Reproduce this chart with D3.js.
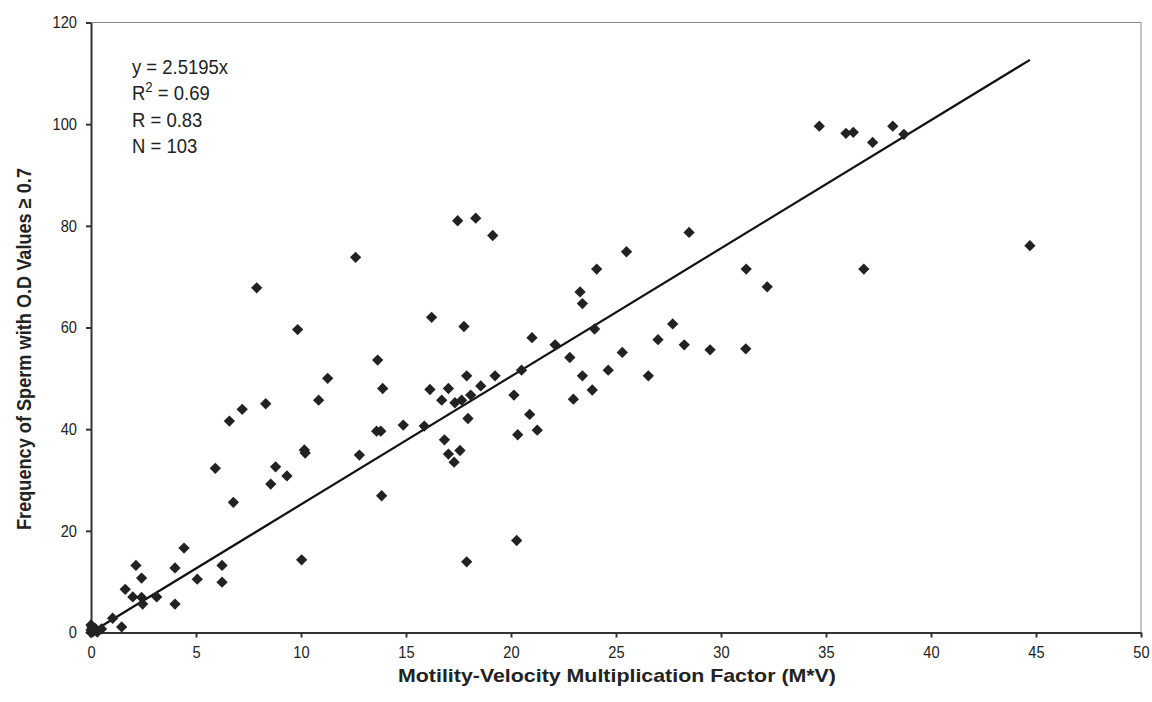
<!DOCTYPE html>
<html>
<head>
<meta charset="utf-8">
<script src="https://cdn.jsdelivr.net/npm/d3@7"></script>
<style>
  body { margin: 0; background: #fff; }
  svg { display: block; }
  text { font-family: "Liberation Sans", Arial, sans-serif; fill: #222; }
</style>
</head>
<body>
<svg width="1152" height="702"></svg>
<script>
// values: M*V factor and frequency of sperm (%)
const mvFactor = [
  0.0, 0.05, 0.5, 1.03, 1.46, 1.63, 2.14, 2.41, 1.99, 2.41,
  2.46, 3.13, 4.0, 4.0, 4.43, 5.06, 6.24, 6.24, 6.78, 8.56,
  12.6, 7.89, 9.84, 13.65, 11.27, 13.89, 10.84, 8.32, 7.2, 6.59,
  13.6, 13.8, 10.16, 10.2, 12.78, 5.92, 8.79, 9.33, 14.87, 17.46,
  18.32, 19.13, 25.5, 24.08, 23.29, 23.4, 16.22, 17.76, 23.98, 21.0,
  27.7, 27.0, 22.1, 25.3, 22.8, 20.5, 17.89, 19.24, 23.4, 24.63,
  26.54, 16.14, 17.02, 18.56, 16.7, 17.33, 17.65, 18.08, 20.14, 22.97,
  23.87, 15.87, 17.95, 20.89, 20.32, 21.25, 16.83, 17.57, 17.02, 17.29,
  13.84, 20.27, 17.89, 28.48, 31.2, 36.8, 32.2, 28.25, 29.48, 31.18,
  34.68, 35.95, 36.3, 37.22, 38.18, 38.71, 44.71, 10.03,
  0.0, 0.0, 0.1, 0.2, 0.3
]
const spermFreq = [
  0.5, 1.1, 0.7, 2.8, 1.1, 8.5, 13.2, 10.7, 7.0, 6.9,
  5.6, 7.0, 12.7, 5.6, 16.6, 10.5, 13.2, 9.9, 25.6, 29.2,
  73.8, 67.8, 59.6, 53.6, 50.0, 48.0, 45.7, 45.0, 43.9, 41.6,
  39.6, 39.6, 35.9, 35.3, 34.9, 32.3, 32.6, 30.8, 40.8, 81.0,
  81.5, 78.1, 74.9, 71.5, 67.0, 64.7, 62.0, 60.2, 59.7, 58.0,
  60.7, 57.6, 56.6, 55.1, 54.1, 51.6, 50.5, 50.5, 50.5, 51.6,
  50.5, 47.8, 48.0, 48.5, 45.7, 45.2, 45.7, 46.7, 46.7, 45.9,
  47.7, 40.6, 42.1, 42.9, 38.9, 39.8, 37.9, 35.8, 35.1, 33.5,
  26.9, 18.1, 13.9, 78.7, 71.5, 71.5, 68.0, 56.6, 55.6, 55.8,
  99.6, 98.2, 98.4, 96.4, 99.6, 98.0, 76.1, 14.3,
  0.0, 1.5, 0.2, 0.8, 0.1
]
const slope = 2.5195
const statLines = ["y = 2.5195x", "R2 = 0.69", "R = 0.83", "N = 103"]
const xTicks = [0, 5, 10, 15, 20, 25, 30, 35, 40, 45, 50]
const yTicks = [0, 20, 40, 60, 80, 100, 120]

const points = mvFactor.map((x, i) => ({x: x, y: spermFreq[i]}))

const svg = d3.select("svg")

const plotLeft = 91, plotRight = 1141, plotTop = 22.5, plotBottom = 632.5

const xScale = d3.scaleLinear().domain([0, 50]).range([plotLeft, plotRight])
const yScale = d3.scaleLinear().domain([0, 120]).range([plotBottom, plotTop])

// squeeze text so it looks like a narrow font
function condense(sel, k){
    sel.each(function(){
        const w = this.getComputedTextLength()
        d3.select(this)
            .attr("textLength", w * k)
            .attr("lengthAdjust", "spacingAndGlyphs")
    })
}

// frame: top and right light grey
svg.append("line")
    .attr("x1", plotLeft).attr("x2", plotRight).attr("y1", plotTop).attr("y2", plotTop)
    .attr("stroke", "#888").attr("stroke-width", 1)
svg.append("line")
    .attr("x1", plotRight).attr("x2", plotRight).attr("y1", plotTop).attr("y2", plotBottom)
    .attr("stroke", "#888").attr("stroke-width", 1)

//axes
const axisBottom = d3.axisBottom(xScale)
    .tickValues(xTicks)
    .tickSize(5)
    .tickSizeOuter(0)
    .tickPadding(8)

const axisLeft = d3.axisLeft(yScale)
    .tickValues(yTicks)
    .tickSize(5)
    .tickSizeOuter(0)
    .tickPadding(9)

svg.append("g")
    .attr("transform", `translate(0, ${plotBottom})`)
    .call(axisBottom)

svg.append("g")
    .attr("transform", `translate(${plotLeft}, 0)`)
    .call(axisLeft)

svg.selectAll(".domain, .tick line")
    .attr("stroke", "#333")
    .attr("stroke-width", 2)

svg.selectAll(".tick text")
    .attr("font-size", 17)
    .style("font-family", '"Liberation Sans", Arial, sans-serif')
    .attr("fill", "#222")
    .call(condense, 0.86)

//trend line through origin, up to the largest x
const xMax = d3.max(points, d => d.x)
svg.append("line")
    .attr("x1", xScale(0)).attr("y1", yScale(0))
    .attr("x2", xScale(xMax)).attr("y2", yScale(slope * xMax))
    .attr("stroke", "#111")
    .attr("stroke-width", 2.2)

//points as diamonds
svg.selectAll(".pt")
    .data(points)
    .enter()
    .append("path")
    .attr("class", "pt")
    .attr("d", d3.symbol(d3.symbolSquare, 64))
    .attr("transform", d => `translate(${xScale(d.x)}, ${yScale(d.y)}) rotate(45)`)
    .attr("fill", "#222")

//stats text, squeezed horizontally
const stats = svg.append("text")
    .attr("transform", "translate(132, 0) scale(0.88, 1)")
    .attr("font-size", 21)

statLines.forEach((s, i) => {
    const t = stats.append("tspan")
        .attr("x", 0)
        .attr("y", 74 + i * 26.4)
    if (s.startsWith("R2")) {
        t.text("R")
        t.append("tspan").attr("dy", -8).attr("font-size", 15).text("2")
        t.append("tspan").attr("dy", 8).text(" = 0.69")
    } else {
        t.text(s)
    }
})

//axis titles
svg.append("text")
    .attr("x", 617)
    .attr("y", 682)
    .attr("text-anchor", "middle")
    .attr("font-size", 19)
    .attr("font-weight", "bold")
    .text("Motility-Velocity Multiplication Factor (M*V)")
    .attr("textLength", 438)
    .attr("lengthAdjust", "spacingAndGlyphs")

svg.append("text")
    .attr("transform", `translate(31, 349) rotate(-90)`)
    .attr("text-anchor", "middle")
    .attr("font-size", 20)
    .attr("font-weight", "bold")
    .text("Frequency of Sperm with O.D Values \u2265 0.7")
    .attr("textLength", 362)
    .attr("lengthAdjust", "spacingAndGlyphs")
</script>
</body>
</html>
